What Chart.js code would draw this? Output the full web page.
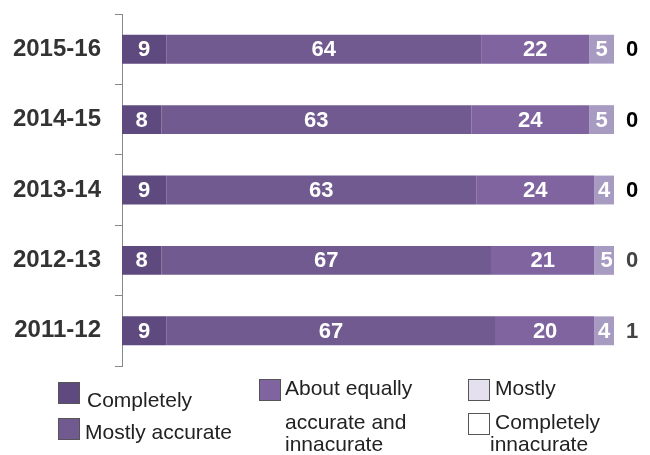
<!DOCTYPE html>
<html>
<head>
<meta charset="utf-8">
<script src="https://cdn.jsdelivr.net/npm/chart.js@4"></script>
<style>
  html, body { margin: 0; padding: 0; background: #fff; }
  #wrap { position: relative; width: 650px; height: 455px; overflow: hidden; }
  #chart { position: absolute; left: 0; top: 0; }
  .key { position: absolute; font-family: "Liberation Sans", Arial, sans-serif; font-size: 21px; color: #222; line-height: 24px; white-space: nowrap; }
  .box { position: absolute; width: 22px; height: 22px; border: 1px solid #555; box-sizing: border-box; }
</style>
</head>
<body>
<div id="wrap">
  <canvas id="chart" width="650" height="455"></canvas>

  <div class="box" style="left:58px; top:382px; background:#5e4a7e;"></div>
  <div class="key" style="left:87px; top:388px;">Completely</div>
  <div class="box" style="left:58px; top:418px; background:#715a8f;"></div>
  <div class="key" style="left:85px; top:420px;">Mostly accurate</div>

  <div class="box" style="left:259px; top:379px; background:#7f64a0;"></div>
  <div class="key" style="left:285px; top:376px;">About equally</div>
  <div class="key" style="left:285px; top:410px;">accurate and</div>
  <div class="key" style="left:285px; top:432px;">innacurate</div>

  <div class="box" style="left:468px; top:379px; background:#e4e0ee;"></div>
  <div class="key" style="left:495px; top:376px;">Mostly</div>
  <div class="box" style="left:468px; top:413px; background:#fff;"></div>
  <div class="key" style="left:495px; top:410px;">Completely</div>
  <div class="key" style="left:490px; top:432px;">innacurate</div>
</div>

<script>
// survey years, newest on top
const years = ["2015-16", "2014-15", "2013-14", "2012-13", "2011-12"];

// percentages per answer
const completely = [9, 8, 9, 8, 9];
const mostlyAccurate = [64, 63, 63, 67, 67];
const aboutEqually = [22, 24, 24, 21, 20];
const mostlyInaccurate = [5, 5, 4, 5, 4];
const completelyInaccurate = [0, 0, 0, 0, 1];

const endLabelColors = ["#000", "#000", "#000", "#444", "#444"];

// writes the numbers on the segments and the last one after the bar
const valueLabels = {
  id: "valueLabels",
  afterDatasetsDraw(chart) {
    const ctx = chart.ctx;
    const area = chart.chartArea;
    ctx.save();
    ctx.font = "bold 22px 'Liberation Sans', Arial, sans-serif";
    ctx.textAlign = "center";
    ctx.textBaseline = "middle";
    chart.data.datasets.forEach((ds, i) => {
      const meta = chart.getDatasetMeta(i);
      meta.data.forEach((bar, j) => {
        if (i === 4) {
          ctx.fillStyle = endLabelColors[j];
          ctx.fillText(ds.data[j], area.right + 18, bar.y + 1);
        } else {
          ctx.fillStyle = "#fff";
          ctx.fillText(ds.data[j], (bar.x + bar.base) / 2, bar.y + 1);
        }
      });
    });
    ctx.restore();
  }
};

new Chart(document.getElementById("chart"), {
  type: "bar",
  data: {
    labels: years,
    datasets: [
      { label: "Completely", data: completely, backgroundColor: "#5e4a7e" },
      { label: "Mostly accurate", data: mostlyAccurate, backgroundColor: "#715a8f" },
      { label: "About equally accurate and innacurate", data: aboutEqually, backgroundColor: "#7f64a0" },
      { label: "Mostly", data: mostlyInaccurate, backgroundColor: "#a89bc2" },
      { label: "Completely innacurate", data: completelyInaccurate, backgroundColor: "#ece8f3" }
    ]
  },
  options: {
    indexAxis: "y",
    responsive: false,
    animation: false,
    layout: { padding: { left: 0, top: 14, right: 36, bottom: 89 } },
    datasets: { bar: { barPercentage: 0.41, categoryPercentage: 1 } },
    plugins: { legend: { display: false }, tooltip: { enabled: false } },
    scales: {
      x: { stacked: true, display: false, min: 0, max: 100 },
      y: {
        stacked: true,
        afterFit(scale) {
          // fixed axis width, and no extra room above/below for the labels
          scale.width = 122;
          scale.paddingTop = 0;
          scale.paddingBottom = 0;
        },
        grid: { offset: true, drawOnChartArea: false, tickLength: 7, color: "#888", lineWidth: 1 },
        border: { color: "#888" },
        ticks: {
          padding: 14,
          color: "#333",
          font: { family: "'Liberation Sans', Arial, sans-serif", size: 24, weight: "bold" }
        }
      }
    }
  },
  plugins: [valueLabels]
});
</script>
</body>
</html>
